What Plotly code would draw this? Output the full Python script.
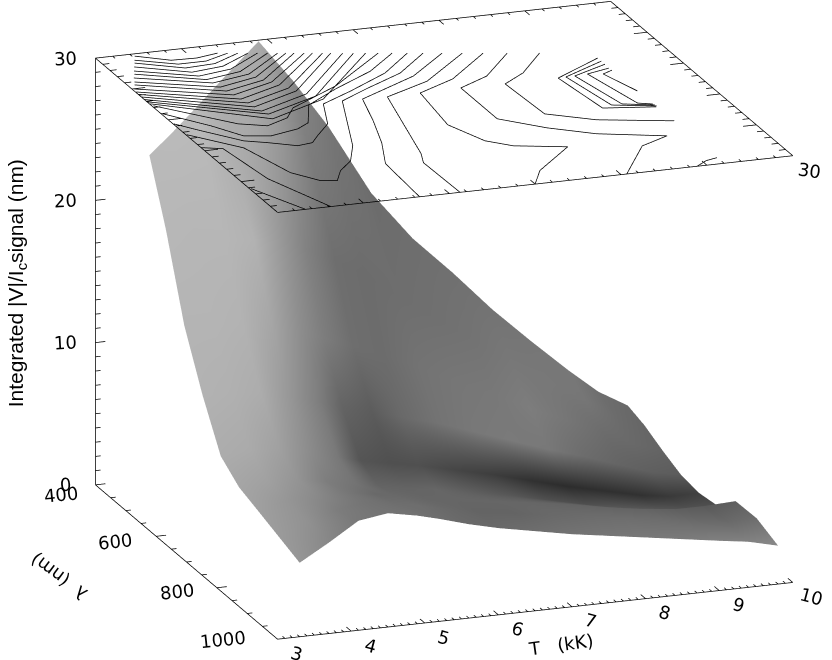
import plotly.graph_objects as go

# surface grid: T columns, lambda rows (first row is the back edge, it varies per column)
T_COLS = [3.3, 3.7, 4.1, 4.5, 4.9, 5.2, 5.6, 6.0, 6.5, 7.0, 7.5, 8.0, 8.5, 9.0, 9.4, 9.8]
LAM_BACK = [505, 484, 463, 441, 420, 404, 420, 440, 460, 475, 485, 495, 500, 503, 505, 505]
LAM_ROWS = [560, 620, 680, 740, 800, 860, 930, 1000]

# one row per T column, one value per lambda row
SIGNAL = [
    [24.9, 20.6, 15.0, 11.2, 8.0, 6.9, 6.4, 5.8, 5.2],
    [25.9, 20.0, 14.8, 11.0, 8.2, 7.0, 6.8, 6.6, 6.4],
    [27.0, 19.5, 14.6, 10.8, 8.0, 7.0, 7.0, 7.2, 7.7],
    [28.1, 19.2, 14.2, 10.4, 7.6, 6.6, 6.9, 7.5, 8.0],
    [29.2, 18.8, 13.6, 9.8, 7.0, 6.2, 6.6, 7.2, 7.6],
    [30.0, 18.2, 13.0, 9.3, 6.6, 5.9, 6.3, 6.9, 7.2],
    [27.3, 17.2, 12.2, 8.7, 6.2, 5.5, 5.9, 6.4, 6.6],
    [24.2, 16.0, 11.4, 8.1, 5.8, 5.2, 5.6, 6.0, 6.1],
    [19.6, 14.0, 10.2, 7.4, 5.2, 4.7, 5.2, 5.6, 5.6],
    [16.4, 12.2, 9.0, 6.5, 4.6, 4.2, 4.8, 5.2, 5.1],
    [13.9, 10.4, 7.8, 5.6, 3.9, 3.6, 4.4, 4.8, 4.7],
    [11.2, 8.6, 6.5, 4.7, 3.2, 3.0, 3.9, 4.4, 4.3],
    [8.8, 7.0, 5.4, 3.9, 2.6, 2.4, 3.5, 4.1, 3.9],
    [6.5, 5.4, 4.2, 3.0, 2.0, 2.0, 3.2, 3.7, 3.5],
    [4.8, 4.2, 3.2, 2.3, 1.7, 1.8, 3.2, 3.4, 3.2],
    [3.6, 3.2, 2.5, 1.9, 1.7, 1.9, 3.3, 3.35, 2.7],
]

# grey level of the shaded surface, same layout as SIGNAL
SHADE = [
    [185, 183, 180, 178, 172, 165, 160, 155, 150],
    [186, 182, 180, 176, 170, 160, 150, 145, 135],
    [186, 182, 178, 172, 160, 148, 138, 125, 120],
    [170, 178, 165, 150, 140, 125, 120, 115, 115],
    [175, 150, 140, 125, 120, 115, 105, 110, 115],
    [170, 130, 125, 100, 85, 100, 105, 110, 110],
    [135, 110, 110, 92, 80, 100, 102, 105, 105],
    [118, 108, 108, 105, 80, 102, 102, 100, 105],
    [108, 110, 115, 115, 70, 95, 102, 100, 110],
    [110, 112, 118, 120, 62, 88, 102, 105, 115],
    [112, 115, 120, 122, 50, 80, 100, 108, 118],
    [115, 120, 125, 120, 45, 80, 100, 110, 120],
    [118, 120, 118, 108, 48, 90, 100, 108, 122],
    [120, 118, 108, 100, 50, 90, 95, 105, 128],
    [110, 108, 105, 95, 58, 85, 90, 105, 130],
    [105, 102, 100, 92, 65, 80, 95, 110, 138],
]

# contour lines on the top plane
CONTOUR_T = [
    [3.50, 3.88, 4.22, 4.54],
    [3.44, 3.91, 4.29, 4.66],
    [3.40, 3.94, 4.36, 4.78],
    [3.34, 3.96, 4.42, 4.90],
    [3.28, 3.99, 4.47, 5.02],
    [3.24, 4.03, 4.55, 5.14],
    [3.18, 4.06, 4.62, 5.26],
    [3.13, 4.09, 4.66, 5.36],
    [3.09, 4.11, 4.71, 5.46],
    [3.03, 4.14, 4.78, 5.58],
    [3.01, 4.17, 4.83, 5.68],
    [3.00, 4.20, 4.90, 5.80],
    [3.00, 4.22, 4.95, 5.90],
    [3.00, 4.25, 5.03, 6.04],
    [3.00, 4.29, 5.11, 6.17],
    [3.01, 4.27, 5.16, 6.32],
    [3.02, 3.45, 3.78, 4.11, 4.46, 4.67, 5.49, 6.47],
    [3.02, 3.43, 3.68, 4.01, 4.43, 4.64, 4.90, 5.45, 6.12, 6.64],
    [3.01, 3.24, 3.61, 3.87, 4.19, 4.41, 4.57, 4.86, 5.09, 5.60, 6.27, 6.82],
    [3.01, 3.51, 3.72, 3.97, 4.17, 4.35, 4.61, 4.85, 5.36, 5.81, 6.45, 7.01],
    [3.00, 3.25, 3.36, 3.72],
    [3.02, 3.38],
    [4.93, 4.99, 5.24, 5.45, 5.63, 5.96, 6.57, 7.24],
    [5.48, 5.46, 5.56, 5.96, 6.66, 7.48],
    [6.51, 6.75, 7.42, 6.78, 6.51, 6.29, 6.41, 7.00, 7.73],
    [7.75, 8.33, 8.77, 7.95, 7.44, 6.97, 6.97, 7.45, 8.02],
    [9.07, 8.15, 7.61, 7.56, 7.93, 8.41],
    [9.04, 8.28, 8.39, 9.05],
    [9.04, 8.39, 8.54, 9.07],
    [9.04, 8.51, 8.68, 9.06],
    [9.03, 8.69, 8.88, 9.05],
    [9.04, 8.88, 9.05],
    [9.06, 8.89, 8.70],
]
CONTOUR_LAM = [
    [408, 436, 438, 429],
    [422, 452, 452, 433],
    [432, 468, 464, 437],
    [445, 485, 476, 441],
    [459, 501, 489, 444],
    [470, 516, 501, 448],
    [483, 530, 513, 452],
    [497, 547, 526, 455],
    [507, 563, 539, 458],
    [521, 579, 549, 462],
    [532, 596, 562, 465],
    [541, 612, 576, 469],
    [551, 628, 589, 472],
    [561, 645, 603, 477],
    [570, 658, 614, 481],
    [578, 676, 627, 485],
    [586, 639, 680, 698, 678, 646, 587, 490],
    [617, 677, 724, 734, 720, 703, 642, 597, 549, 495],
    [656, 690, 741, 756, 778, 773, 751, 714, 644, 610, 561, 501],
    [698, 765, 868, 907, 913, 880, 850, 799, 641, 609, 567, 507],
    [748, 760, 880, 999],
    [908, 1000],
    [1000, 873, 800, 721, 642, 621, 582, 514],
    [1000, 884, 852, 644, 605, 522],
    [998, 955, 884, 860, 832, 763, 643, 607, 530],
    [999, 909, 884, 850, 811, 761, 641, 610, 539],
    [835, 802, 762, 644, 613, 551],
    [590, 644, 764, 780],
    [602, 643, 757, 777],
    [614, 643, 757, 773],
    [629, 641, 760, 769],
    [637, 647, 718],
    [978, 984, 1000],
]

T_RANGE = [3, 10]
LAM_RANGE = [400, 1000]
Z_TOP = 30
T_LABELS = [3, 4, 5, 6, 7, 8, 9, 10]
LAM_LABELS = [400, 600, 800, 1000]
Z_LABELS = [0, 10, 20, 30]

FONT = "DejaVu Sans"
LINE_W = 1.5


def add_seg(xs, ys, zs, a, b):
    xs += [a[0], b[0], None]
    ys += [a[1], b[1], None]
    zs += [a[2], b[2], None]


lam_grid = []
t_grid = []
for i, t in enumerate(T_COLS):
    lam_grid.append([LAM_BACK[i]] + LAM_ROWS)
    t_grid.append([t] * (len(LAM_ROWS) + 1))

fig = go.Figure()

fig.add_trace(go.Surface(
    x=t_grid, y=lam_grid, z=SIGNAL, surfacecolor=SHADE,
    cmin=0, cmax=255,
    colorscale=[[0, "rgb(0,0,0)"], [1, "rgb(255,255,255)"]],
    showscale=False, hoverinfo="skip",
    lighting=dict(ambient=1, diffuse=0, specular=0, fresnel=0, roughness=1),
))

# contours
cx, cy, cz = [], [], []
for ts, lams in zip(CONTOUR_T, CONTOUR_LAM):
    cx += ts + [None]
    cy += lams + [None]
    cz += [Z_TOP] * len(ts) + [None]
fig.add_trace(go.Scatter3d(x=cx, y=cy, z=cz, mode="lines",
                           line=dict(color="black", width=LINE_W), hoverinfo="skip"))

# box lines and ticks
bx, by, bz = [], [], []
t0, t1 = T_RANGE
l0, l1 = LAM_RANGE
add_seg(bx, by, bz, (t0, l0, 0), (t0, l0, Z_TOP))
add_seg(bx, by, bz, (t0, l0, 0), (t0, l1, 0))
add_seg(bx, by, bz, (t0, l1, 0), (t1, l1, 0))
add_seg(bx, by, bz, (t0, l0, Z_TOP), (t1, l0, Z_TOP))
add_seg(bx, by, bz, (t0, l1, Z_TOP), (t1, l1, Z_TOP))
add_seg(bx, by, bz, (t0, l0, Z_TOP), (t0, l1, Z_TOP))
add_seg(bx, by, bz, (t1, l0, Z_TOP), (t1, l1, Z_TOP))

for k in range(31):
    d = 0.135 if k % 10 == 0 else 0.07
    add_seg(bx, by, bz, (t0, l0, k), (t0 + d, l0, k))
for k in range(13):
    lam = l0 + 50 * k
    d = 0.135 if k % 4 == 0 else 0.07
    add_seg(bx, by, bz, (t0, lam, 0), (t0 + d, lam, 0))
for k in range(71):
    t = t0 + 0.1 * k
    d = 16 if k % 10 == 0 else 8
    add_seg(bx, by, bz, (t, l1, 0), (t, l1 - d, 0))
# the top plane has its own 0-30 scales
for k in range(31):
    t = t0 + (t1 - t0) * k / 30
    d = 16 if k % 5 == 0 else 8
    add_seg(bx, by, bz, (t, l0, Z_TOP), (t, l0 + d, Z_TOP))
    add_seg(bx, by, bz, (t, l1, Z_TOP), (t, l1 - d, Z_TOP))
for k in range(26):
    lam = l0 + (l1 - l0) * k / 25
    d = 0.18 if k % 5 == 0 else 0.09
    add_seg(bx, by, bz, (t0, lam, Z_TOP), (t0 + d, lam, Z_TOP))
    add_seg(bx, by, bz, (t1, lam, Z_TOP), (t1 - d, lam, Z_TOP))
fig.add_trace(go.Scatter3d(x=bx, y=by, z=bz, mode="lines",
                           line=dict(color="black", width=LINE_W), hoverinfo="skip"))

notes = []
for v in Z_LABELS:
    notes.append(dict(x=t0, y=l0, z=v, text=str(v), textangle=-3, xshift=-30, yshift=0))
for v, sx, sy in zip(LAM_LABELS, [-34, -41, -40, -55], [-10, -5, -4, 0]):
    notes.append(dict(x=t0, y=v, z=0, text=str(v), textangle=-6, xshift=sx, yshift=sy))
for v in T_LABELS:
    notes.append(dict(x=v, y=l1, z=0, text=str(v), textangle=15, xshift=19, yshift=-14))
notes.append(dict(x=t1, y=l1, z=Z_TOP, text="30", textangle=8, xshift=17, yshift=-15))
notes.append(dict(x=6.85, y=l1, z=0, text="T\u00a0\u00a0\u00a0(kK)", textangle=-8, xshift=0, yshift=-36))
notes.append(dict(x=t0, y=700, z=0, text="λ\u00a0\u00a0(nm)", textangle=-143, xshift=-128, yshift=-15))
for n in notes:
    n.update(showarrow=False, font=dict(family=FONT, size=18, color="black"))
notes.append(dict(x=t0, y=l0, z=14.2, text="Integrated |V|/I<sub>c</sub>signal (nm)",
                  textangle=-90, xshift=-79, yshift=0, showarrow=False,
                  font=dict(family="Liberation Sans", size=21, color="black")))

hidden = dict(showgrid=False, zeroline=False, showline=False, showticklabels=False,
              ticks="", title="", showbackground=False, showspikes=False)

fig.update_layout(
    width=832, height=660,
    margin=dict(l=0, r=0, t=0, b=0),
    paper_bgcolor="white",
    showlegend=False,
    scene=dict(
        domain=dict(x=[0, 1], y=[0, 1]),
        # small margin so lines sitting on the cube edges are not clipped away
        xaxis=dict(range=[t0 - 0.005, t1 + 0.005], **hidden),
        yaxis=dict(range=[l1 + 0.5, l0 - 0.5], **hidden),
        zaxis=dict(range=[-0.02, Z_TOP + 0.02], **hidden),
        aspectmode="manual",
        aspectratio=dict(x=1.662, y=1.63, z=1.36),
        camera=dict(
            projection=dict(type="orthographic"),
            up=dict(x=0, y=0, z=1),
            center=dict(x=-0.0832, y=0.0205, z=-0.0280),
            eye=dict(x=-0.729, y=-1.771, z=0.583),
        ),
        annotations=notes,
    ),
)

fig.write_html("out.html", config={"displayModeBar": False},
               post_script="document.body.style.margin='0';")
